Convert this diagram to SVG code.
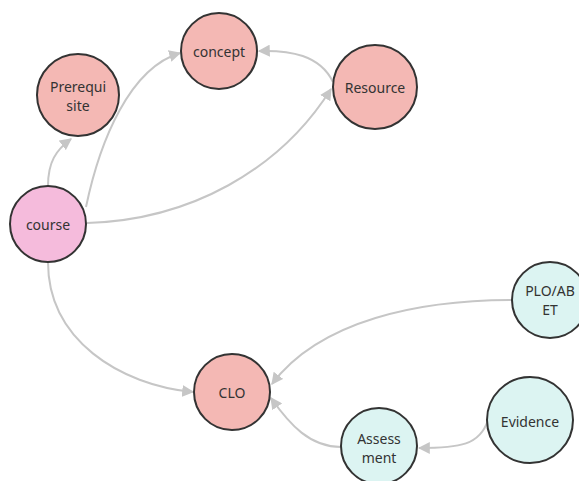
<svg xmlns="http://www.w3.org/2000/svg" width="579" height="481" viewBox="0 0 579 481">
<style>
.n{stroke:#333;stroke-width:2}
.r{fill:#f4b8b4}
.p{fill:#f5bbdc}
.c{fill:#dcf4f2}
.e{fill:none;stroke:#c6c6c6;stroke-width:2;marker-end:url(#a)}
text{font-family:"Noto Sans","Open Sans","Liberation Sans",sans-serif;font-size:14px;fill:#333;text-anchor:middle;dominant-baseline:central}
</style>
<defs>
<marker id="a" viewBox="0 0 10 10" refX="9" refY="5" markerWidth="6" markerHeight="6" orient="auto" markerUnits="strokeWidth">
<path d="M0 0L10 5L0 10z" fill="#c6c6c6"/>
</marker>
</defs>
<rect width="579" height="481" fill="#fff"/>
<g id="edges">
<path class="e" d="M48 186C48 162 56 150 71 139"/>
<path class="e" d="M86 207C100 140 130 68 180 53"/>
<path class="e" d="M87 223C190 220 280 170 331 89"/>
<path class="e" d="M333 82C320 55 290 50 259 51"/>
<path class="e" d="M48 262C48 340 120 385 193 392"/>
<path class="e" d="M512 300C420 300 320 320 272 384"/>
<path class="e" d="M341 447C310 447 290 425 271 398"/>
<path class="e" d="M488 420C480 445 460 448 419 448"/>
</g>
<g id="concept"><circle class="n r" cx="219" cy="51" r="38"/><text x="219" y="51">concept</text></g>
<g id="prerequisite"><circle class="n r" cx="78" cy="95" r="41"/><text x="78" y="86">Prerequi</text><text x="78" y="105">site</text></g>
<g id="resource"><circle class="n r" cx="375" cy="87" r="42"/><text x="375" y="87">Resource</text></g>
<g id="course"><circle class="n p" cx="48" cy="224" r="38"/><text x="48" y="224">course</text></g>
<g id="clo"><circle class="n r" cx="232" cy="392" r="38"/><text x="232" y="392">CLO</text></g>
<g id="plo"><circle class="n c" cx="550" cy="300" r="38"/><text x="550" y="290">PLO/AB</text><text x="550" y="309">ET</text></g>
<g id="evidence"><circle class="n c" cx="530" cy="420" r="43"/><text x="530" y="421">Evidence</text></g>
<g id="assessment"><circle class="n c" cx="379" cy="446" r="38"/><text x="379" y="438">Assess</text><text x="379" y="457">ment</text></g>
</svg>
